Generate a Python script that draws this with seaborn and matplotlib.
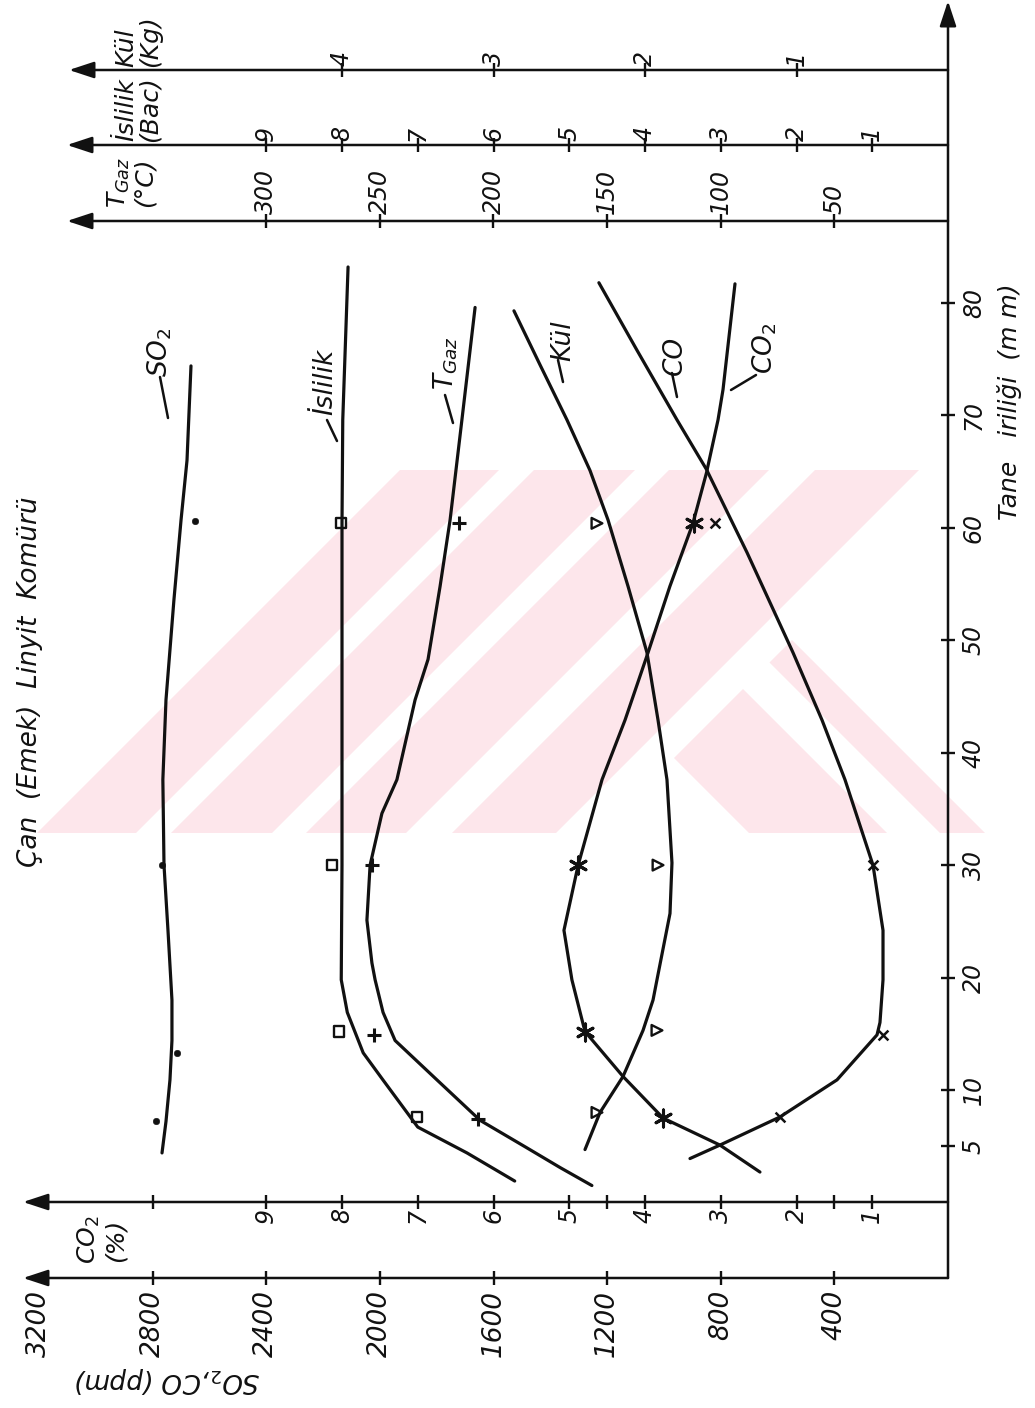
import numpy as np
import pandas as pd
import matplotlib
matplotlib.use("Agg")
import matplotlib.pyplot as plt
import seaborn as sns
from matplotlib.lines import Line2D
from matplotlib.patches import Polygon
from matplotlib.transforms import Affine2D, blended_transform_factory as blend

# ---------------- DATA ----------------
size_ticks = [5, 10, 20, 30, 40, 50, 60, 70, 80]
co2_ticks = [1, 2, 3, 4, 5, 6, 7, 8, 9]
co2_extra_ticks = [1.5, 4.5, 10.5]
ppm_ticks = [400, 800, 1200, 1600, 2000, 2400, 2800, 3200]
tgaz_ticks = [50, 100, 150, 200, 250, 300]
islilik_ticks = [1, 2, 3, 4, 5, 6, 7, 8, 9]
kul_ticks = [1, 2, 3, 4]

# SO2 (ppm)
so2_curve_size = [4.4, 7.2, 10.9, 14.4, 18.0, 24.2, 30.0, 37.6, 44.7, 53.6, 60.7, 66.0, 74.4]
so2_curve_ppm = [2767, 2753, 2739, 2732, 2732, 2746, 2760, 2764, 2753, 2725, 2700, 2679, 2665]
so2_pt_size = [7.2, 13.3, 30.0, 60.6]
so2_pt_ppm = [2788, 2714, 2767, 2651]

# Islilik (Bacharach)
isl_curve_size = [1.9, 4.4, 6.7, 10.9, 13.3, 16.9, 19.8, 30.0, 37.6, 60.4, 69.6, 83.2]
isl_curve_bac = [5.72, 6.35, 7.00, 7.46, 7.72, 7.93, 8.01, 8.00, 8.00, 8.00, 7.99, 7.92]
isl_pt_size = [7.6, 15.2, 30.0, 60.4]
isl_pt_bac = [7.01, 8.04, 8.13, 8.01]

# T gaz (deg C)
tgaz_curve_size = [1.5, 3.1, 4.9, 7.3, 10.9, 14.4, 16.9, 19.8, 21.3, 25.1, 30.0, 34.6,
                   37.6, 44.7, 48.3, 54.8, 60.7, 69.6, 79.6]
tgaz_curve_c = [156.7, 170.7, 185.7, 205.9, 224.9, 243.3, 248.6, 252.1, 253.5, 255.7, 254.3,
                249.1, 242.5, 234.5, 228.8, 223.5, 219.1, 213.9, 208.1]
tgaz_pt_size = [7.4, 14.9, 30.0, 60.4]
tgaz_pt_c = [206.8, 252.6, 253.5, 215.2]

# Kul (kg)
kul_curve_size = [4.7, 8.0, 11.2, 15.3, 18.0, 19.8, 25.7, 30.2, 37.6, 42.9, 48.9, 54.8,
                  60.7, 65.1, 69.6, 74.5, 79.3]
kul_curve_kg = [2.396, 2.297, 2.145, 2.013, 1.947, 1.921, 1.835, 1.822, 1.855, 1.914, 1.987,
                2.112, 2.244, 2.363, 2.515, 2.693, 2.865]
kul_pt_size = [8.0, 15.3, 30.0, 60.4]
kul_pt_kg = [2.317, 1.921, 1.914, 2.317]

# CO (ppm)
co_curve_size = [2.7, 5.1, 7.5, 11.2, 15.2, 18.0, 19.8, 24.2, 30.0, 37.6, 42.9, 48.9, 54.8,
                 60.4, 65.1, 69.6, 75.8, 81.8]
co_curve_ppm = [662, 803, 1003, 1144, 1278, 1306, 1324, 1352, 1302, 1218, 1137, 1056, 979,
                898, 848, 954, 1095, 1229]
co_pt_size = [7.5, 15.2, 30.0, 60.4]
co_pt_ppm = [1003, 1278, 1302, 894]

# CO2 (%)
co2_curve_size = [3.9, 5.1, 7.6, 10.9, 14.9, 16.0, 19.8, 24.2, 30.0, 37.6, 42.9, 48.9, 57.8,
                  65.1, 69.6, 72.3, 81.7]
co2_curve_pct = [3.406, 3.010, 2.218, 1.465, 0.937, 0.898, 0.858, 0.858, 0.990, 1.360, 1.663,
                 2.046, 2.653, 3.182, 3.036, 2.970, 2.812]
co2_pt_size = [7.6, 14.9, 30.0, 60.4]
co2_pt_pct = [2.218, 0.858, 0.990, 3.076]

# ---------------- STYLE / LAYOUT ----------------
sns.set_theme(style="white")
plt.rcParams["font.family"] = ["DejaVu Sans"]
plt.rcParams["mathtext.fontset"] = "dejavusans"

W, H = 1035, 1408
fig = plt.figure(figsize=(W / 100, H / 100), dpi=100)
fig.patch.set_facecolor("white")

X0, PXU = 948.0, 75.75      # pixel of value zero, pixels per CO2-% unit
Y0, PXMM = 1202.4, 11.243   # pixel of size zero, pixels per mm
u_lim = (X0 / PXU, (X0 - W) / PXU)
s_lim = ((Y0 - H) / PXMM, Y0 / PXMM)

ax = fig.add_axes([0, 0, 1, 1])
ax_ppm = ax.twiny()
ax_T = ax.twiny()
ax_kg = ax.twiny()
scales = [(ax, 1.0), (ax_ppm, 266.67), (ax_T, 33.333), (ax_kg, 0.5)]

PIX = Affine2D().scale(1.0 / W, -1.0 / H).translate(0, 1) + fig.transFigure
INK = "#111111"
LW = 2.3
FONT = dict(style="italic", color=INK)

def fx(px):
    return px / W

def fy(py):
    return 1 - py / H

# ---------------- watermark ----------------
pink = "#fde6eb"
band_top, band_bot = 470, 833
for c1, c2 in [(870, 969), (1004, 1105), (1139, 1239), (1285, 1389)]:
    verts = [(c1 - band_top, band_top), (c2 - band_top, band_top),
             (c2 - band_bot, band_bot), (c1 - band_bot, band_bot)]
    fig.add_artist(Polygon(verts, closed=True, transform=PIX, fc=pink, ec="none", zorder=0))
clip = Polygon([(962, band_top), (1000, band_top), (1000, band_bot), (599, band_bot)],
               closed=True, transform=PIX, fc="none", ec="none")
fig.add_artist(clip)
for d1, d2 in [(-84, 54), (107, 152)]:
    verts = [(d1 + band_top, band_top), (d2 + band_top, band_top),
             (d2 + band_bot, band_bot), (d1 + band_bot, band_bot)]
    p = Polygon(verts, closed=True, transform=PIX, fc=pink, ec="none", zorder=0)
    fig.add_artist(p)
    p.set_clip_path(clip)

# ---------------- curves ----------------
def curve(a, sz, val):
    sns.lineplot(x=val, y=sz, ax=a, color=INK, lw=LW, sort=False, estimator=None,
                 orient="y", zorder=3)

curve(ax_ppm, so2_curve_size, so2_curve_ppm)
curve(ax, isl_curve_size, isl_curve_bac)
curve(ax_T, tgaz_curve_size, tgaz_curve_c)
curve(ax_kg, kul_curve_size, kul_curve_kg)
curve(ax_ppm, co_curve_size, co_curve_ppm)
curve(ax, co2_curve_size, co2_curve_pct)

sns.scatterplot(x=so2_pt_ppm, y=so2_pt_size, ax=ax_ppm, marker="o", s=22, color=INK,
                edgecolor=INK, zorder=4)
sns.scatterplot(x=isl_pt_bac, y=isl_pt_size, ax=ax, marker="s", s=55, facecolor="none",
                edgecolor=INK, linewidth=1.7, zorder=4)
sns.scatterplot(x=tgaz_pt_c, y=tgaz_pt_size, ax=ax_T, marker="+", s=90, color=INK,
                linewidth=2.2, zorder=4)
sns.scatterplot(x=kul_pt_kg, y=kul_pt_size, ax=ax_kg, marker=">", s=60, facecolor="none",
                edgecolor=INK, linewidth=1.7, zorder=4)
sns.scatterplot(x=co_pt_ppm, y=co_pt_size, ax=ax_ppm, marker=(6, 2, 0), s=150, color=INK,
                linewidth=2.2, zorder=4)
sns.scatterplot(x=co2_pt_pct, y=co2_pt_size, ax=ax, marker="x", s=50, color=INK,
                linewidth=1.8, zorder=4)

for a, f in scales:
    a.set_xlim(u_lim[0] * f, u_lim[1] * f)
    a.set_axis_off()
ax.set_ylim(*s_lim)

# ---------------- axes lines with arrows ----------------
ARROW = dict(arrowstyle="-|>,head_length=0.85,head_width=0.28", color=INK, lw=1.8,
             mutation_scale=18, shrinkA=0, shrinkB=0)

def arrow(tail, tip):
    ax.annotate("", xy=(fx(tip[0]), fy(tip[1])), xytext=(fx(tail[0]), fy(tail[1])),
                xycoords="figure fraction", textcoords="figure fraction", arrowprops=ARROW)

arrow((948, 1278), (948, 1))        # particle size axis
arrow((948, 1202), (23, 1202))      # CO2 axis
arrow((948, 1278), (23, 1278))      # SO2, CO axis
arrow((948, 70), (69, 70))          # Kul axis
arrow((948, 145), (67, 145))        # Islilik axis
arrow((948, 221), (67, 221))        # T gaz axis

# ---------------- ticks and tick labels ----------------
def value_axis(a, ticks, ypx, lab_y, va, fs, labels=True):
    tr = blend(a.transData, fig.transFigure)
    a.vlines(ticks, fy(ypx - 7), fy(ypx + 7), transform=tr, colors=INK, lw=1.7, clip_on=False)
    if labels:
        for t in ticks:
            a.text(t, fy(lab_y), f"{t}", transform=tr, rotation=90, ha="center", va=va,
                   fontsize=fs, **FONT)

value_axis(ax, co2_ticks, 1202, 1208, "top", 17)
value_axis(ax, co2_extra_ticks, 1202, 0, "top", 17, labels=False)
value_axis(ax_ppm, ppm_ticks[:-1], 1278, 1290, "top", 19)
ax_ppm.text(ppm_ticks[-1], fy(1290), f"{ppm_ticks[-1]}",
            transform=blend(ax_ppm.transData, fig.transFigure), rotation=90, ha="center",
            va="top", fontsize=19, **FONT)
value_axis(ax_kg, kul_ticks, 70, 66, "bottom", 17)
value_axis(ax, islilik_ticks, 145, 141, "bottom", 17)
value_axis(ax_T, tgaz_ticks, 221, 214, "bottom", 17)

tr_size = blend(fig.transFigure, ax.transData)
ax.hlines(size_ticks, fx(941), fx(955), transform=tr_size, colors=INK, lw=1.7, clip_on=False)
for t in size_ticks:
    ax.text(fx(974), t, f"{t}", transform=tr_size, rotation=90, ha="center", va="center",
            fontsize=17, **FONT)

# ---------------- axis titles ----------------
fig.text(fx(138), fy(67), "Kül\n(Kg)", rotation=90, ha="center", va="bottom",
         multialignment="left", fontsize=18, linespacing=1.0, **FONT)
fig.text(fx(138), fy(142), "İslilik\n(Bac)", rotation=90, ha="center", va="bottom",
         multialignment="center", fontsize=18, linespacing=1.0, **FONT)
fig.text(fx(131), fy(208), "$T_{Gaz}$\n(°C)", rotation=90, ha="center", va="bottom",
         multialignment="center", fontsize=18, linespacing=1.0, **FONT)
fig.text(fx(102), fy(1240), "CO$_2$\n(%)", rotation=90, ha="center", va="center",
         multialignment="center", fontsize=18, linespacing=1.1, **FONT)
fig.text(fx(167), fy(1380), "SO$_2$,CO (ppm)", rotation=180, ha="center", va="center",
         fontsize=19, **FONT)
fig.text(fx(1010), fy(402), "Tane   iriliği  (m m)", rotation=90, ha="center", va="center",
         fontsize=18, **FONT)
fig.text(fx(30), fy(682), "Çan  (Emek)  Linyit  Komürü", rotation=90, ha="center",
         va="center", fontsize=19, **FONT)

# ---------------- curve labels with leaders ----------------
curve_labels = [("SO$_2$", 160, 352, (160, 377), (168, 418)),
                ("İslilik", 325, 382, (327, 420), (337, 441)),
                ("$T_{Gaz}$", 446, 363, (445, 395), (453, 423)),
                ("Kül", 563, 341, (558, 360), (563, 382)),
                ("CO", 675, 355, (672, 373), (677, 397)),
                ("CO$_2$", 765, 348, (756, 375), (731, 390))]
for txt, cx, cy, p1, p2 in curve_labels:
    fig.text(fx(cx), fy(cy), txt, rotation=90, ha="center", va="center", fontsize=19, **FONT)
    fig.add_artist(Line2D([p1[0], p2[0]], [p1[1], p2[1]], transform=PIX, color=INK, lw=1.8))

fig.savefig("out.png", dpi=100, facecolor="white")
